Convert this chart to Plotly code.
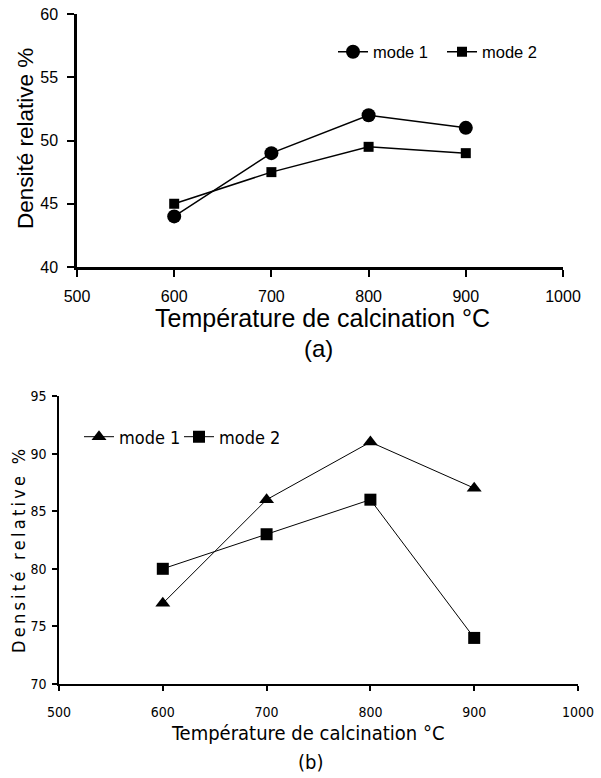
import plotly.graph_objects as go

# ---- data ----
temps = [600, 700, 800, 900]
a_mode1 = [44, 49, 52, 51]
a_mode2 = [45, 47.5, 49.5, 49]
b_mode1 = [77, 86, 91, 87]
b_mode2 = [80, 83, 86, 74]
series_names = ["mode 1", "mode 2"]
x_title = "Température de calcination °C"
y_title = "Densité relative %"

# page body margin is removed below, so the figure fills the window
OFF = 0
W, H = 601 - OFF, 778 - OFF
def px(x):
    return (x - OFF) / W
def py(y):
    return 1 - (y - OFF) / H

FA = "Liberation Sans, Arial, sans-serif"
FN = "Liberation Sans Narrow, Arial Narrow, DejaVu Sans Condensed, sans-serif"

fig = go.Figure()
fig.add_trace(go.Scatter(x=temps, y=a_mode1, name=series_names[0], mode="lines+markers",
                         line=dict(color="black", width=1.5),
                         marker=dict(symbol="circle", size=14, color="black"),
                         xaxis="x", yaxis="y", legend="legend"))
fig.add_trace(go.Scatter(x=temps, y=a_mode2, name=series_names[1], mode="lines+markers",
                         line=dict(color="black", width=1.5),
                         marker=dict(symbol="square", size=10, color="black"),
                         xaxis="x", yaxis="y", legend="legend"))
fig.add_trace(go.Scatter(x=temps, y=b_mode1, name=series_names[0], mode="lines+markers",
                         line=dict(color="black", width=1),
                         marker=dict(symbol="triangle-up", size=13, color="black"),
                         xaxis="x2", yaxis="y2", legend="legend2"))
fig.add_trace(go.Scatter(x=temps, y=b_mode2, name=series_names[1], mode="lines+markers",
                         line=dict(color="black", width=1),
                         marker=dict(symbol="square", size=12, color="black"),
                         xaxis="x2", yaxis="y2", legend="legend2"))

common = dict(showgrid=False, zeroline=False, showline=True, linecolor="black",
              ticks="outside", tickcolor="black", mirror=False, automargin=False,
              ticklabeloverflow="allow")

fig.update_layout(
    template="none",
    width=W, height=H,
    margin=dict(l=0, r=0, t=0, b=0, pad=0, autoexpand=False),
    paper_bgcolor="white", plot_bgcolor="white",
    showlegend=True,
    xaxis=dict(domain=[px(77), px(563)], range=[500, 1000], dtick=100, anchor="y",
               linewidth=2.5, ticklen=7, tickwidth=2, ticklabelstandoff=6,
               tickfont=dict(family=FA, size=16, color="black"), **common),
    yaxis=dict(domain=[py(267), py(14)], range=[40, 60], dtick=5, anchor="x",
               linewidth=2.5, ticklen=7, tickwidth=2, ticklabelstandoff=6,
               tickfont=dict(family=FA, size=16, color="black"), **common),
    xaxis2=dict(domain=[px(59), px(578)], range=[500, 1000], dtick=100, anchor="y2",
                linewidth=2, ticklen=5, tickwidth=1.5, ticklabelstandoff=9,
                tickfont=dict(family=FN, size=14, color="black"), **common),
    yaxis2=dict(domain=[py(684), py(396)], range=[70, 95], dtick=5, anchor="x2",
                linewidth=1.5, ticklen=5, tickwidth=1.5, ticklabelstandoff=3,
                tickfont=dict(family=FN, size=14, color="black"), **common),
    legend=dict(orientation="h", x=px(333), y=py(52), xanchor="left", yanchor="middle",
                entrywidth=64, font=dict(family=FA, size=16.5, color="black"),
                bgcolor="rgba(0,0,0,0)"),
    legend2=dict(orientation="h", x=px(79), y=py(437), xanchor="left", yanchor="middle",
                 itemwidth=30, entrywidth=55, font=dict(family=FN, size=18, color="black"),
                 bgcolor="rgba(0,0,0,0)"),
)

ann = []
ann.append(dict(text=x_title, x=px(322), y=py(318), font=dict(family=FA, size=25, color="black")))
ann.append(dict(text="(a)", x=px(318), y=py(349), font=dict(family=FA, size=24, color="black")))
ann.append(dict(text=y_title, x=px(25), y=py(139), textangle=-90, font=dict(family=FA, size=22.5, color="black")))
ann.append(dict(text=x_title, x=px(308), y=py(733), font=dict(family=FN, size=20, color="black")))
ann.append(dict(text="(b)", x=px(310), y=py(762), font=dict(family=FN, size=20, color="black")))
spaced = "\u2009".join(list(y_title))
ann.append(dict(text=spaced, x=px(18), y=py(551), textangle=-90, font=dict(family=FN, size=18, color="black")))
for a in ann:
    a.update(xref="paper", yref="paper", showarrow=False, xanchor="center", yanchor="middle")
fig.update_layout(annotations=ann)

fig.write_html("out.html",
               config={"displayModeBar": False},
               post_script="document.body.style.margin='0px';document.body.style.overflow='hidden';")
